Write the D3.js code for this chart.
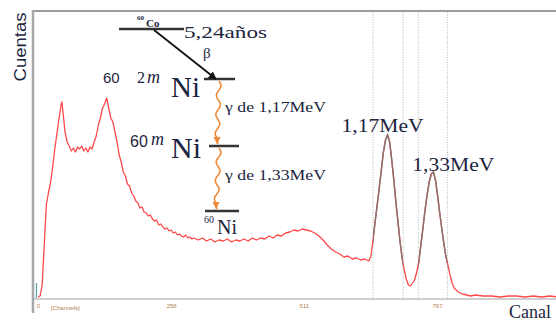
<!DOCTYPE html>
<html><head><meta charset="utf-8">
<script src="https://cdn.jsdelivr.net/npm/d3@7"></script>
<style>body{margin:0;background:#fff;overflow:hidden} svg{display:block}
.serif{font-family:"Liberation Serif","Times New Roman",Times,serif}
.sans{font-family:"Liberation Sans",Arial,sans-serif}
</style>
</head><body><svg id="c" width="556" height="322"></svg>
<script>
// ---- data ----
const channels = [0,4,8,12,16,20,24,28,32,36,40,44,46,48,52,56,60,64,68,72,76,80,84,88,92,96,100,104,108,112,116,120,124,128,132,136,140,144,148,152,156,160,164,168,172,176,180,184,188,192,196,200,204,208,212,216,220,224,228,232,236,240,244,248,252,256,260,264,268,272,276,280,284,288,292,296,300,308,316,324,332,340,348,356,364,372,380,388,396,404,412,420,428,436,444,452,460,468,476,484,492,500,508,516,524,532,540,548,556,564,572,580,588,596,604,612,620,628,636,640,644,648,652,656,660,664,668,672,676,680,684,688,692,696,700,704,708,712,716,720,724,728,732,736,740,744,748,752,756,760,764,768,772,776,780,784,788,792,796,800,808,816,824,832,840,856,872,888,904,920,936,952,968,984,1000];
const counts = [1,2,13,53,93,105,115,130,148,163,178,192,196,186,166,156,152,147,150,146,151,149,152,147,150,146,151,149,156,162,173,180,190,194,200,190,180,176,166,156,143,136,126,122,114,112,105,102,97,95,90,91,86,85,82,83,79,77,78,73,74,71,69,70,67,68,65,66,63,64,62,61,63,60,61,59,60,58,60,57,59,56,58,57,59,56,58,57,59,57,60,58,60,59,62,60,63,62,65,66,68,67,69,68,67,65,62,58,53,49,46,44,41,42,39,40,38,39,37,42,58,76,93,110,128,146,158,163,156,138,118,96,76,56,40,28,19,13,12,15,18,26,36,53,70,88,103,116,124,126,118,103,86,70,55,42,33,23,15,10,6,4,3,2,3,2,2,1,2,2,1,2,1,2,1];
const tickValues = [0,256,511,767];
const tickLabels = ["0","256","511","767"];
const axisUnitLabel = "[Channels]";
const roiBounds = [644,702,731,787];
const roiRanges = [[644,702],[731,787]];
const peakLabels = ["1,17MeV","1,33MeV"];
const peakChannels = [672,760];
const peakCounts = [163,126];
const tealMarker = {channel:-3, counts:15};
const yLabel = "Cuentas", xLabel = "Canal";

// ---- scales ----
const svg = d3.select("#c");
const x = d3.scaleLinear().domain([0,767]).range([38,437]);
const y = d3.scaleLinear().domain([0,286]).range([298,12]);
const data = channels.map((c,i)=>({c, v:counts[i]}));

const defs = svg.append("defs");
defs.append("clipPath").attr("id","plot").append("rect").attr("x",34).attr("y",12).attr("width",530).attr("height",287);
roiRanges.forEach((r,i)=>{
  defs.append("clipPath").attr("id","roi"+i).append("rect")
    .attr("x",x(r[0])).attr("y",0).attr("width",x(r[1])-x(r[0])).attr("height",322);
});
const mk = defs.append("marker").attr("id","ahB").attr("viewBox","0 0 10 10").attr("refX",9).attr("refY",5)
  .attr("markerWidth",8).attr("markerHeight",8).attr("orient","auto").attr("markerUnits","userSpaceOnUse");
mk.append("path").attr("d","M0,0L10,5L0,10z").attr("fill","#111");

// frame
svg.append("line").attr("x1",32).attr("x2",556).attr("y1",11).attr("y2",11).attr("stroke","#9c9c9c").attr("stroke-width",2);
svg.append("line").attr("x1",33).attr("x2",556).attr("y1",299).attr("y2",299).attr("stroke","#cfcfcf").attr("stroke-width",2);
svg.append("line").attr("x1",33).attr("x2",33).attr("y1",10).attr("y2",313).attr("stroke","#a8a8a8").attr("stroke-width",2.5);

// ROI dotted lines
svg.append("g").selectAll("line").data(roiBounds).join("line")
  .attr("x1",d=>x(d)).attr("x2",d=>x(d)).attr("y1",12).attr("y2",298)
  .attr("stroke","#b8b8b8").attr("stroke-width",1).attr("stroke-dasharray","1,1.5");

// x axis
const ax = svg.append("g").attr("transform","translate(0,301)")
  .call(d3.axisBottom(x).tickValues(tickValues).tickFormat((d,i)=>tickLabels[i]).tickSize(0).tickPadding(3));
ax.select(".domain").remove();
ax.selectAll("text").attr("fill","#b08050").attr("font-size",6).attr("class","sans");
svg.append("text").attr("x",x(0)+13).attr("y",310).attr("font-size",6).attr("fill","#b08050")
  .attr("class","sans").text(axisUnitLabel);

// spectrum
const line = d3.line().x(d=>x(d.c)).y(d=>y(d.v));
const gp = svg.append("g").attr("clip-path","url(#plot)");
gp.append("path").datum(data).attr("d",line).attr("fill","none").attr("stroke","#ff4a4a").attr("stroke-width",1.3).attr("stroke-linejoin","round");
roiRanges.forEach((r,i)=>{
  gp.append("path").datum(data).attr("d",line).attr("clip-path",`url(#roi${i})`)
    .attr("fill","none").attr("stroke","#8c7070").attr("stroke-width",1.5);
});
svg.append("line").attr("x1",x(tealMarker.channel)).attr("x2",x(tealMarker.channel))
  .attr("y1",y(0)).attr("y2",y(tealMarker.counts)).attr("stroke","#5fa8a8").attr("stroke-width",1.2);

// peak labels
const txtCol = "#1c2540";
const labelDx = [-5, 20], labelDy = [-3, -1];
peakLabels.forEach((p,i)=>{
  svg.append("text").attr("x",x(peakChannels[i])+labelDx[i]).attr("y",y(peakCounts[i])+labelDy[i]).attr("text-anchor","middle")
    .attr("class","serif").attr("font-size",18).attr("fill",txtCol)
    .attr("textLength",82).attr("lengthAdjust","spacingAndGlyphs").text(p);
});

// axis titles
svg.append("text").attr("transform","translate(26,47) rotate(-90)").attr("text-anchor","middle")
  .attr("class","sans").attr("font-size",17).attr("fill",txtCol)
  .attr("textLength",69).attr("lengthAdjust","spacingAndGlyphs").text(yLabel);
svg.append("text").attr("x",509).attr("y",318).attr("class","serif").attr("font-size",18).attr("fill",txtCol).text(xLabel);

// ---- decay scheme ----
const levels = [[119,184,29],[204,235,79],[209,239,146],[205,239,211]];
svg.append("g").selectAll("line").data(levels).join("line")
  .attr("x1",d=>d[0]).attr("x2",d=>d[1]).attr("y1",d=>d[2]).attr("y2",d=>d[2])
  .attr("stroke","#333").attr("stroke-width",2.5);
svg.append("line").attr("x1",154).attr("y1",30).attr("x2",216).attr("y2",79)
  .attr("stroke","#111").attr("stroke-width",1.8).attr("marker-end","url(#ahB)");

function wavy(x0,y0,x1,y1){
  const n=40, pts=[];
  for(let i=0;i<=n;i++){const t=i/n; const yy=y0+(y1-y0)*t; const xx=x0+(x1-x0)*t+2.2*Math.sin(t*Math.PI*2*3.3)*(t<0.88?1:0.3); pts.push([xx,yy]);}
  svg.append("path").attr("d",d3.line().curve(d3.curveBasis)(pts)).attr("fill","none").attr("stroke","#ee8a3a").attr("stroke-width",1.6);
  svg.append("path").attr("d",`M${x1-3.5},${y1-7}L${x1+3.5},${y1-7}L${x1},${y1}z`).attr("fill","#ee8a3a");
}
wavy(219,81,217,144);
wavy(219,148,216,209);

const t = (xx,yy,s,str,opt={})=>{
  const e = svg.append("text").attr("x",xx).attr("y",yy).attr("font-size",s).attr("fill",txtCol)
   .attr("class",opt.sans?"sans":"serif").text(str);
  if(opt.it) e.attr("font-style","italic");
  if(opt.w) e.attr("font-weight","bold");
  if(opt.len) e.attr("textLength",opt.len).attr("lengthAdjust","spacingAndGlyphs");
  return e;
};
t(137,20,7,"60",{w:1});
t(146,27,11,"Co",{w:1});
t(184,38,17,"5,24años",{len:83});
t(203,58,15,"β");
t(103,83,15,"60",{sans:1});
t(137,83,16,"2");
t(147,83,18,"m",{it:1});
t(171,97,29,"Ni");
t(130,147,16,"60",{sans:1});
t(151,145,18,"m",{it:1});
t(171,158,30,"Ni");
t(204,223,10,"60");
t(217,234,20,"Ni");
t(225,112,14,"γ de 1,17MeV",{len:101});
t(225,180,14,"γ de 1,33MeV",{len:101});
</script></body></html>
